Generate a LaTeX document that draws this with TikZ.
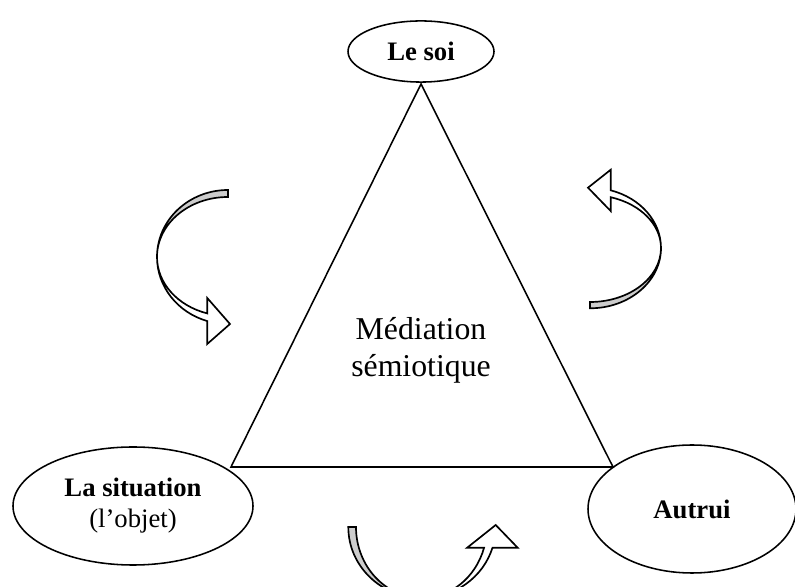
\documentclass[tikz,border=0pt]{standalone}
\usepackage{fontspec}
\setmainfont{Liberation Serif}
\usetikzlibrary{shapes.geometric}

\begin{document}
\begin{tikzpicture}[x=0.45pt, y=0.45pt,
  pole/.style={ellipse, draw, line width=0.7pt, inner sep=0pt, align=center, font=\fontsize{12}{14}\selectfont},
  courbe/.pic={
    \filldraw[line width=0.75pt, fill=white] (-71,0) arc[start angle=180, end angle=253, x radius=71, y radius=67] -- (-20.76,-87) -- (2,-67) -- (-20.76,-41) -- (-20.76,-56.42) arc[start angle=253, end angle=180, x radius=71, y radius=59] -- cycle;
    \filldraw[line width=0.75pt, fill=gray!40] (0,67) arc[start angle=90, end angle=180, x radius=71, y radius=67] arc[start angle=180, end angle=90, x radius=71, y radius=60] -- cycle;
  }]
\useasboundingbox (0,0) rectangle (795,587);

\node[pole, minimum width=65.7pt, minimum height=27.5pt] (soi) at (421,535.5){\textbf{Le soi}};
\node[pole, minimum width=108pt, minimum height=53.1pt] (situation) at (133,81){\textbf{La situation}\\(l’objet)};
\node[pole, minimum width=93.6pt, minimum height=57.6pt] (autrui) at (692,78){\textbf{Autrui}};
\node[align=center, font=\fontsize{14.3}{16.7}\selectfont] (mediation) at (421,237){Médiation\\sémiotique};

\coordinate (apex) at (421,503);
\coordinate (bl) at (231,120);
\coordinate (br) at (613,120);
\draw[line width=0.7pt] (apex) -- (bl) -- (br) -- cycle;

\pic at (228,330) {courbe};
\pic[rotate=180, yscale=0.9] at (590,339) {courbe};
\pic[rotate=90, yscale=1.1] at (422,60) {courbe};

\end{tikzpicture}
\end{document}
